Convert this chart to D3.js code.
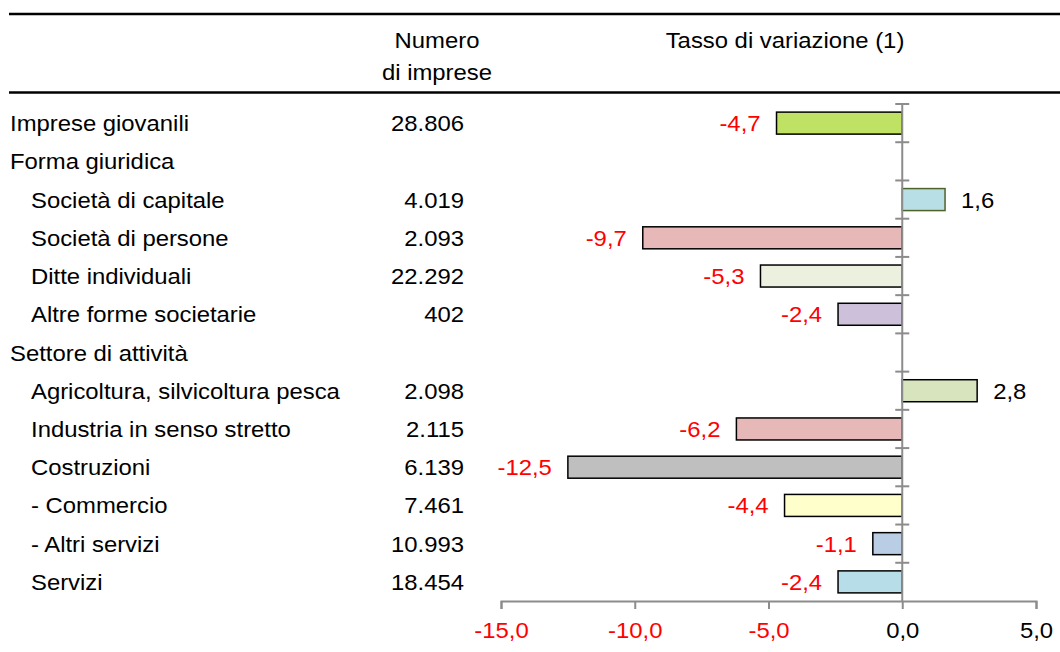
<!DOCTYPE html>
<html>
<head>
<meta charset="utf-8">
<script src="https://cdn.jsdelivr.net/npm/d3@7"></script>
<style>
  html, body { margin: 0; padding: 0; background: #fff; }
  svg { display: block; font-family: "Liberation Sans", Arial, sans-serif; }
</style>
</head>
<body>
<svg id="chart" width="1060" height="652"></svg>
<script>
const categories = [
  "Imprese giovanili", "Forma giuridica", "Società di capitale", "Società di persone",
  "Ditte individuali", "Altre forme societarie", "Settore di attività",
  "Agricoltura, silvicoltura pesca", "Industria in senso stretto", "Costruzioni",
  "- Commercio", "- Altri servizi", "Servizi"
];
const indented = [false, false, true, true, true, true, false, true, true, true, true, true, true];
const counts = ["28.806", "", "4.019", "2.093", "22.292", "402", "", "2.098", "2.115", "6.139", "7.461", "10.993", "18.454"];
const values = [-4.7, null, 1.6, -9.7, -5.3, -2.4, null, 2.8, -6.2, -12.5, -4.4, -1.1, -2.4];
const fills = ["#c0e264", null, "#b8dfe6", "#e6b8b7", "#ebf1de", "#ccc0da", null, "#d7e4bd", "#e6b9b8", "#bfbfbf", "#ffffcc", "#b9cde5", "#b7dee8"];
const strokes = ["#000", null, "#4f6228", "#000", "#000", "#000", null, "#000", "#000", "#000", "#000", "#000", "#000"];
const xTicks = [-15, -10, -5, 0, 5];
const headerCount = ["Numero", "di imprese"];
const headerRate = "Tasso di variazione (1)";

const locale = d3.formatLocale({decimal: ",", thousands: ".", grouping: [3], currency: ["", "€"], minus: "-"});
const fmt = locale.format(".1f");

const svg = d3.select("#chart");
const FS = 22;
const SX = 1.085;
const tf = (tx, ty) => `translate(${tx},${ty}) scale(${SX},1)`;

const x = d3.scaleLinear().domain([-15, 5]).range([501, 1036]);
const y = d3.scaleBand().domain(d3.range(categories.length)).range([104, 601]);
const bw = y.bandwidth();
const barH = 22;

// top rules
svg.append("line").attr("x1", 9).attr("x2", 1060).attr("y1", 14).attr("y2", 14)
  .attr("stroke", "#000").attr("stroke-width", 2.5);
svg.append("line").attr("x1", 9).attr("x2", 1060).attr("y1", 92.5).attr("y2", 92.5)
  .attr("stroke", "#000").attr("stroke-width", 2.5);

// headers
svg.selectAll("text.hc").data(headerCount).join("text").attr("class", "hc")
  .attr("transform", (d, i) => tf(437, 48 + i * 32))
  .attr("text-anchor", "middle").attr("font-size", FS).attr("fill", "#000").text(d => d);
svg.append("text").attr("transform", tf(785, 48)).attr("text-anchor", "middle")
  .attr("font-size", FS).attr("fill", "#000").text(headerRate);

// row labels
const rows = svg.append("g");
rows.selectAll("text.cat").data(categories).join("text").attr("class", "cat")
  .attr("transform", (d, i) => tf(indented[i] ? 31 : 10, y(i) + bw / 2 + 8))
  .attr("font-size", FS).attr("fill", "#000").text(d => d);
rows.selectAll("text.cnt").data(counts).join("text").attr("class", "cnt")
  .attr("transform", (d, i) => tf(464, y(i) + bw / 2 + 8))
  .attr("text-anchor", "end").attr("font-size", FS).attr("fill", "#000").text(d => d);

// bars
const idx = d3.range(values.length).filter(i => values[i] !== null);
svg.append("g").selectAll("rect").data(idx).join("rect")
  .attr("x", i => x(Math.min(0, values[i])))
  .attr("y", i => y(i) + (bw - barH) / 2)
  .attr("width", i => Math.abs(x(values[i]) - x(0)))
  .attr("height", barH)
  .attr("fill", i => fills[i])
  .attr("stroke", i => strokes[i])
  .attr("stroke-width", 1.5);

// value labels
svg.append("g").selectAll("text").data(idx).join("text")
  .attr("transform", i => tf(values[i] < 0 ? x(values[i]) - 16 : x(values[i]) + 16, y(i) + bw / 2 + 8))
  .attr("text-anchor", i => values[i] < 0 ? "end" : "start")
  .attr("font-size", FS)
  .attr("fill", i => values[i] < 0 ? "#ff0000" : "#000")
  .text(i => fmt(values[i]));

// vertical axis at zero with category boundary ticks
const vAxis = svg.append("g");
vAxis.append("line").attr("x1", x(0)).attr("x2", x(0)).attr("y1", y.range()[0]).attr("y2", y.range()[1])
  .attr("stroke", "#8c8c8c").attr("stroke-width", 2);
vAxis.selectAll("line.vt").data(d3.range(categories.length)).join("line").attr("class", "vt")
  .attr("x1", x(0) - 7).attr("x2", x(0) + 7)
  .attr("y1", i => y(i)).attr("y2", i => y(i))
  .attr("stroke", "#8c8c8c").attr("stroke-width", 2);

// horizontal axis
const xAxis = d3.axisBottom(x).tickValues(xTicks).tickSize(8).tickPadding(13).tickFormat(fmt);
const gx = svg.append("g").attr("transform", `translate(0,${y.range()[1]})`).call(xAxis);
gx.select(".domain").attr("stroke", "#8c8c8c").attr("stroke-width", 2);
gx.selectAll(".tick line").attr("stroke", "#8c8c8c").attr("stroke-width", 2);
gx.selectAll(".tick text").attr("font-size", FS)
  .attr("font-family", "Liberation Sans, Arial, sans-serif")
  .attr("transform", `scale(${SX},1)`)
  .attr("fill", d => d < 0 ? "#ff0000" : "#000");
</script>
</body>
</html>
